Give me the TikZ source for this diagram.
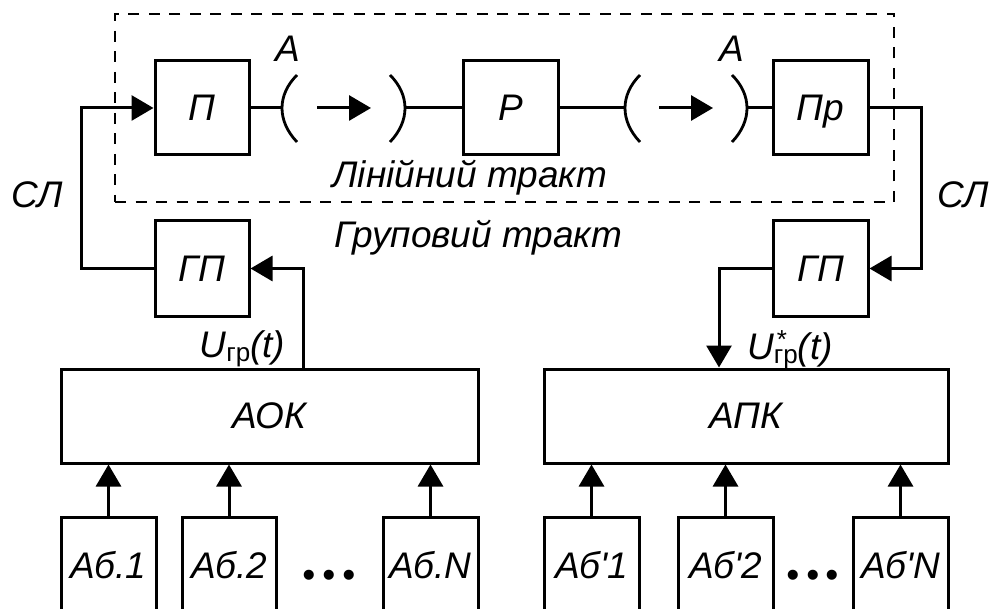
\documentclass[tikz,border=0pt]{standalone}
\usepackage{fontspec}
\setmainfont{Liberation Sans}
\usetikzlibrary{arrows.meta}
\newcommand\dlabfont{\fontsize{37}{44}\selectfont\itshape}
\newcommand\dsubgr{\raisebox{-4pt}{\fontsize{26}{31}\selectfont\upshape гр}}
\newcommand\dstar{\rlap{\raisebox{11pt}{\hspace{3pt}\fontsize{26}{31}\selectfont\upshape *}}}
\begin{document}
\begin{tikzpicture}[x=1pt,y=-1pt,
  lw/.style={line width=3pt},
  blk/.style={draw,lw,minimum width=94pt,minimum height=94pt,inner sep=0pt,text depth=0pt,font=\dlabfont},
  txt/.style={font=\dlabfont,inner sep=0pt,anchor=base},
  arr/.style={lw,-{Triangle[length=22pt,width=25pt]}},
  ln/.style={lw},
  paren/.style={line width=2.8pt},
  dashbox/.style={draw,line width=2.8pt,dash pattern=on 11pt off 9.5pt,minimum width=779pt,minimum height=188pt,inner sep=0pt}
]
\clip (0,0) rectangle (992,609);
\fill[white] (0,0) rectangle (992,609);

% linear path frame
\node[dashbox] (frame) at (504.5,108) {};

% top blocks
\node[blk] (P1) at (202,108) {П};
\node[blk,minimum width=95pt] (R) at (510.5,108) {Р};
\node[blk,minimum width=95pt] (Pr) at (820.5,108) {Пр};

% group converters
\node[blk,minimum height=95pt] (GPL) at (202,268.5) {ГП};
\node[blk,minimum width=95pt,minimum height=95pt] (GPR) at (820.5,268.5) {ГП};

% terminal equipment
\node[blk,minimum width=417pt] (AOK) at (269.5,416) {АОК};
\node[blk,minimum width=404pt] (APK) at (746,416) {АПК};

% subscribers
\node[blk,minimum width=95pt,minimum height=95pt] (A1) at (108.5,564.5) {Аб.1};
\node[blk,minimum height=95pt] (A2) at (229,564.5) {Аб.2};
\node[blk,minimum width=95pt,minimum height=95pt] (AN) at (430.5,564.5) {Аб.N};
\node[blk,minimum width=95pt,minimum height=95pt] (B1) at (591.5,564.5) {Аб\textquotesingle1};
\node[blk,minimum width=95pt,minimum height=95pt] (B2) at (725.5,564.5) {Аб\textquotesingle2};
\node[blk,minimum width=95pt,minimum height=95pt] (BN) at (900.5,564.5) {Аб\textquotesingle N};

\node[txt] (dotsL) at (329,587) {•\hspace{7pt}•\hspace{7pt}•};
\node[txt] (dotsR) at (812.5,587) {•\hspace{6.5pt}•\hspace{6.5pt}•};

% lenses (line sections)
\coordinate (l1a) at (282,108);
\coordinate (l1b) at (405,108);
\coordinate (l2a) at (625,108);
\coordinate (l2b) at (747,108);
\draw[paren] (297,75) .. controls (277,95) and (277,121) .. (297,142);
\draw[paren] (390,75) .. controls (410,95) and (410,121) .. (390,142);
\draw[paren] (640,75) .. controls (620,95) and (620,121) .. (640,142);
\draw[paren] (732,75) .. controls (752,95) and (752,121) .. (732,142);
\coordinate (a1s) at (317,108); \coordinate (a1e) at (371,108);
\coordinate (a2s) at (659,108); \coordinate (a2e) at (713,108);
\draw[arr] (a1s) -- (a1e);
\draw[arr] (a2s) -- (a2e);

% connectors on top line
\draw[ln] (P1.east) -- (l1a);
\draw[ln] (l1b) -- (R.west);
\draw[ln] (R.east) -- (l2a);
\draw[ln] (l2b) -- (Pr.west);

% СЛ left
\coordinate (slL) at (81,268.5);
\draw[arr] (GPL.west) -- (slL) |- (P1.west);
% СЛ right
\coordinate (slR) at (921,108);
\draw[arr] (Pr.east) -- (slR) |- (GPR.east);

% group signal
\coordinate (aokout) at (303,369);
\draw[arr] (aokout) |- (GPL.east);
\coordinate (gprc) at (719,268.5);
\draw[arr] (GPR.west) -- (gprc) -- (gprc |- APK.north);

% subscriber arrows
\foreach \n in {A1,A2,AN}{\draw[arr] (\n.north) -- (\n.north |- AOK.south);}
\foreach \n in {B1,B2,BN}{\draw[arr] (\n.north) -- (\n.north |- APK.south);}

% labels
\node[txt] (LA1) at (288,62) {А};
\node[txt] (LA2) at (731.5,62) {А};
\node[txt] (SLl) at (37,208) {СЛ};
\node[txt] (SLr) at (963,208) {СЛ};
\node[txt] (lin) at (470,188) {Лінійний тракт};
\node[txt] (grp) at (478.5,248) {Груповий тракт};
\node[txt] (ugr) at (242.5,357) {U\dsubgr(\textit{t})};
\node[txt] (ugrs) at (790,359) {U\dstar\dsubgr(\textit{t})};
\end{tikzpicture}
\end{document}
